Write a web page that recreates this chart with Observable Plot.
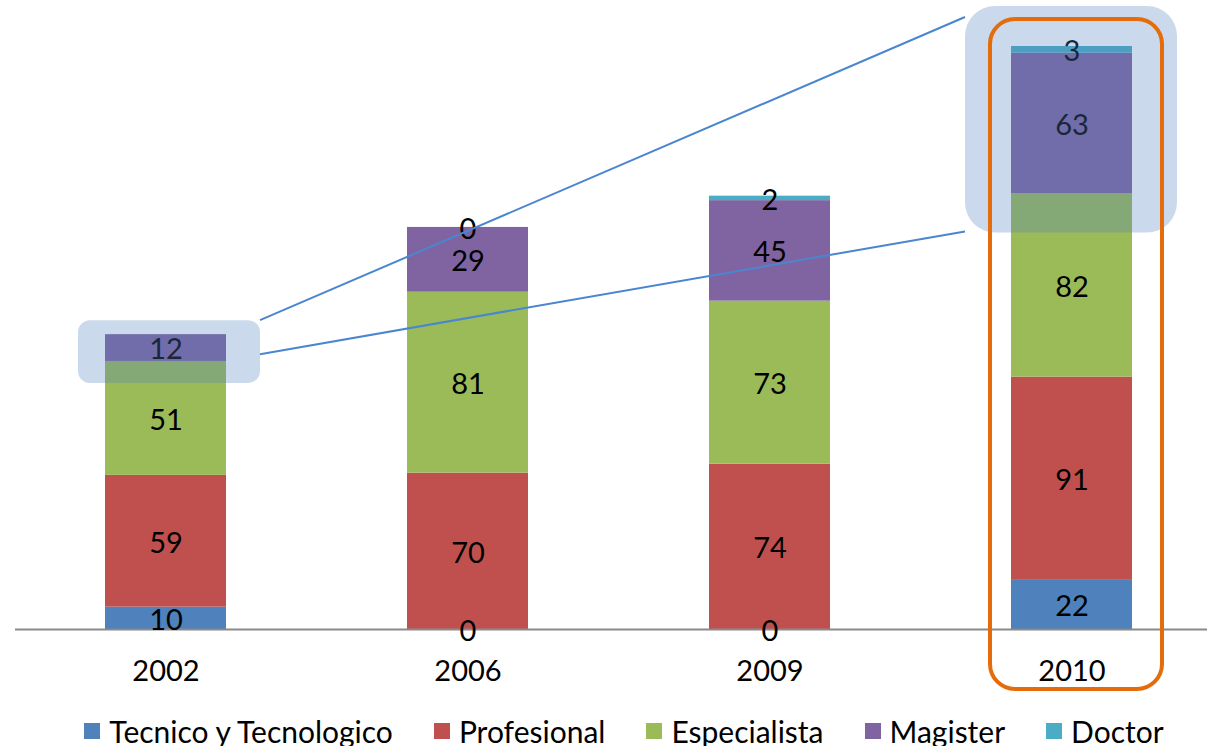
<!DOCTYPE html>
<html><head><meta charset="utf-8">
<script src="https://cdn.jsdelivr.net/npm/d3@7"></script>
<script src="https://cdn.jsdelivr.net/npm/@observablehq/plot@0.6"></script>
<style>
body{margin:0;background:#fff;font-family:Lato,"Open Sans",sans-serif;}
#legend{display:flex;justify-content:center;align-items:center;gap:41px;height:30px;margin-top:4px;font-size:30px;color:#000;padding-left:41px}
#legend .it{display:flex;align-items:center;gap:9px;white-space:nowrap}
#legend .sw{width:16px;height:16px;display:inline-block}
</style></head>
<body><div id="chart"></div><div id="legend"></div>
<script>
const years = ["2002","2006","2009","2010"];
const series = ["Tecnico y Tecnologico","Profesional","Especialista","Magister","Doctor"];
const colors = ["#4f81bd","#c0504d","#9bbb59","#8064a2","#4bacc6"];
const tecnico = [10,0,0,22];
const profesional = [59,70,74,91];
const especialista = [51,81,73,82];
const magister = [12,29,45,63];
const doctor = [null,0,2,3];
const valueArrays = [tecnico,profesional,especialista,magister,doctor];

const data = [];
series.forEach((s,si)=>years.forEach((y,yi)=>{
  const v = valueArrays[si][yi];
  data.push({year:y, serie:s, value: v==null?0:v, label: v});
}));

const W = 1207, H = 712;
const stackOpts = {x:"year", y:"value", z:"serie", order: series};
const plot = Plot.plot({
  width: W, height: H,
  marginLeft: 15, marginRight: 0, marginTop: 0, marginBottom: 0,
  style:{fontFamily:"Lato, 'Open Sans', sans-serif", background:"#fff"},
  x:{domain: years, range:[13,1224], paddingInner:0.6, paddingOuter:0.3, axis:null},
  y:{domain:[0,261], range:[629,46], axis:null},
  color:{domain: series, range: colors},
  marks:[
    Plot.barY(data, Plot.stackY({...stackOpts, fill:"serie"})),
    Plot.ruleY([0], {stroke:"#8a8a8a", strokeWidth:2}),
    Plot.text(data.filter(d=>d.label!=null), Plot.stackY({...stackOpts, text:"label", fill:"black", fontSize:29, dy:2})),
    Plot.text(years, {x:d=>d, y:0, dy:42, text:d=>d, fill:"black", fontSize:29})
  ]
});
document.getElementById("chart").appendChild(plot);

// highlight annotations anchored to the data through the plot's scales
const xs = plot.scale("x"), ys = plot.scale("y");
const bw = xs.bandwidth;
const svg = d3.select(plot);
const cum = (yi, upto)=>valueArrays.slice(0,upto).reduce((a,arr)=>a+(arr[yi]||0),0);
const i02 = years.indexOf("2002"), i10 = years.indexOf("2010");
const b1 = {x1: xs.apply("2002")-27, x2: xs.apply("2002")+bw+34,
            y1: ys.apply(cum(i02,5))-14, y2: ys.apply(cum(i02,3))+22};
const b2 = {x1: xs.apply("2010")-46, x2: xs.apply("2010")+bw+45,
            y1: ys.apply(cum(i10,5))-40, y2: ys.apply(cum(i10,3))+39};
const g = svg.append("g");
g.append("rect").attr("x",b1.x1).attr("y",b1.y1).attr("width",b1.x2-b1.x1).attr("height",b1.y2-b1.y1)
  .attr("rx",12).attr("fill","#4f81bd").attr("fill-opacity",0.3);
g.append("rect").attr("x",b2.x1).attr("y",b2.y1).attr("width",b2.x2-b2.x1).attr("height",b2.y2-b2.y1)
  .attr("rx",30).attr("fill","#4f81bd").attr("fill-opacity",0.3);
g.append("line").attr("x1",b1.x2).attr("y1",b1.y1).attr("x2",b2.x1).attr("y2",b2.y1+11)
  .attr("stroke","#4a86d0").attr("stroke-width",2);
g.append("line").attr("x1",b1.x2).attr("y1",b1.y1+34).attr("x2",b2.x1).attr("y2",b2.y2-1)
  .attr("stroke","#4a86d0").attr("stroke-width",2);
const o = {x1: xs.apply("2010")-21, x2: xs.apply("2010")+bw+30, y1: ys.apply(cum(i10,5))-27, y2: ys.apply(0)+60};
g.append("rect").attr("x",o.x1).attr("y",o.y1).attr("width",o.x2-o.x1).attr("height",o.y2-o.y1)
  .attr("rx",25).attr("fill","none").attr("stroke","#e46c0a").attr("stroke-width",4);

const lg = d3.select("#legend");
series.forEach((s,i)=>{
  const it = lg.append("div").attr("class","it");
  it.append("span").attr("class","sw").style("background",colors[i]);
  it.append("span").text(s);
});
</script></body></html>
